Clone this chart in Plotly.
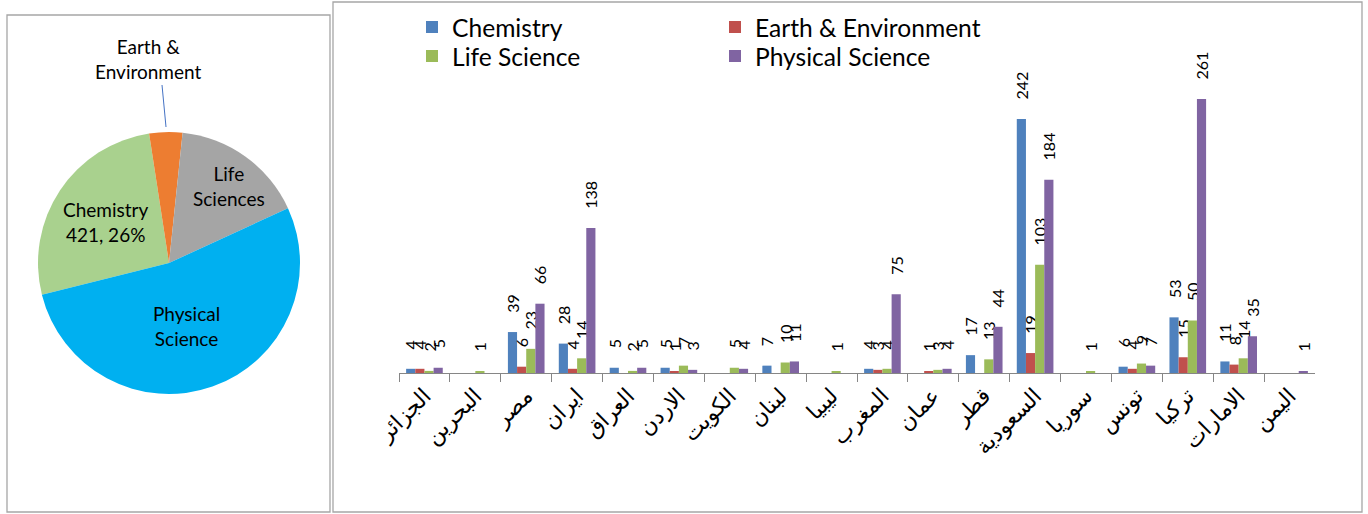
import plotly.graph_objects as go

# Countries (x categories of the grouped bar chart)
countries = ["الجزائر", "البحرين", "مصر", "ايران", "العراق", "الاردن", "الكويت", "لبنان", "ليبيا",
             "المغرب", "عمان", "قطر", "السعودية", "سوريا", "تونس", "تركيا", "الامارات", "اليمن"]

# Publications per field (None = no publications)
chemistry = [4, None, 39, 28, 5, 5, None, 7, None, 4, None, 17, 242, None, 6, 53, 11, None]
earth_env = [4, None, 6, 4, None, 1, None, None, None, 3, 1, None, 19, None, 4, 15, 8, None]
life_science = [2, 1, 23, 14, 2, 7, 5, 10, 1, 4, 3, 13, 103, 1, 9, 50, 14, None]
physical_science = [5, None, 66, 138, 5, 3, 4, 11, None, 75, 4, 44, 184, None, 7, 261, 35, 1]

series_names = ["Chemistry", "Earth & Environment", "Life Science", "Physical Science"]
series_values = [chemistry, earth_env, life_science, physical_science]
bar_colors = ["#4F81BD", "#C0504D", "#9BBB59", "#8064A2"]
legend_rows = ["legend", "legend", "legend2", "legend2"]

# Pie: field totals
pie_labels = ["Chemistry", "Earth & Environment", "Life Sciences", "Physical Science"]
pie_colors = ["#A9D18E", "#ED7D31", "#A5A5A5", "#00B0F0"]
pie_values = [sum(v for v in s if v) for s in series_values]

W, H = 1368, 514


def px(x):
    return x / W


def py(y):
    return 1 - y / H


FONT = "Lato, 'Open Sans', sans-serif"
NBSP = "\u00a0"
fig = go.Figure()

for name, vals, col, leg in zip(series_names, series_values, bar_colors, legend_rows):
    fig.add_trace(go.Bar(
        x=countries, y=vals, name=name,
        marker=dict(color=col, line=dict(width=0)),
        # leading non-breaking spaces keep the rotated value clear of the bar end
        text=[NBSP * 4 + str(v) if v else "" for v in vals],
        textposition="outside", textangle=-90, constraintext="none",
        cliponaxis=False,
        textfont=dict(family=FONT, size=16, color="#000000"),
        legend=leg,
    ))

total = sum(pie_values)
fig.add_trace(go.Pie(
    labels=pie_labels, values=pie_values, sort=False, direction="clockwise",
    rotation=-104, textinfo="none", hoverinfo="label+value+percent",
    marker=dict(colors=pie_colors, line=dict(width=0)),
    domain=dict(x=[px(38), px(300)], y=[py(394), py(132)]),
    showlegend=False,
))

pie_font = dict(family=FONT, size=19, color="#000000")
chem_pct = round(100 * pie_values[0] / total)
annotations = [
    dict(x=px(105), y=py(222), text=f"Chemistry<br>{pie_values[0]}, {chem_pct}%"),
    dict(x=px(148), y=py(59), text="Earth &<br>Environment"),
    dict(x=px(229), y=py(186), text="Life<br>Sciences"),
    dict(x=px(186), y=py(326), text="Physical<br>Science"),
]
for a in annotations:
    fig.add_annotation(xref="paper", yref="paper", showarrow=False, font=pie_font,
                       xanchor="center", yanchor="middle", **a)

frame = dict(color="#A6A6A6", width=1.3)
shapes = [
    # pie panel frame
    dict(type="rect", xref="paper", yref="paper",
         x0=px(7), x1=px(330), y0=py(512), y1=py(15), line=frame),
    # bar panel frame
    dict(type="rect", xref="paper", yref="paper",
         x0=px(333), x1=px(1362), y0=py(512), y1=py(2), line=frame),
    # leader line for the small slice
    dict(type="line", xref="paper", yref="paper",
         x0=px(162), x1=px(166), y0=py(85), y1=py(127),
         line=dict(color="#4472C4", width=1)),
]

legend_common = dict(orientation="h", xanchor="left", yanchor="middle",
                     entrywidth=258, entrywidthmode="pixels",
                     font=dict(family=FONT, size=24.6, color="#000000"),
                     bgcolor="rgba(0,0,0,0)")

fig.update_layout(
    width=W, height=H,
    margin=dict(l=0, r=0, t=0, b=0, autoexpand=False),
    paper_bgcolor="white", plot_bgcolor="white",
    barmode="group", bargap=0.28, bargroupgap=0,
    xaxis=dict(domain=[px(399), px(1315)], type="category", automargin=False,
               showline=True, linecolor="#868686", linewidth=1.3,
               ticks="outside", tickson="boundaries", ticklen=8, tickcolor="#868686",
               tickangle=-45, showgrid=False,
               tickfont=dict(family="'Liberation Serif', 'DejaVu Sans', serif", size=22, color="#000000")),
    yaxis=dict(domain=[py(373), py(58)], range=[0, 300], visible=False, showgrid=False,
               automargin=False),
    legend=dict(x=px(412), y=py(27), **legend_common),
    legend2=dict(x=px(412), y=py(56), **legend_common),
    shapes=shapes,
)

fig.write_html("out.html")
